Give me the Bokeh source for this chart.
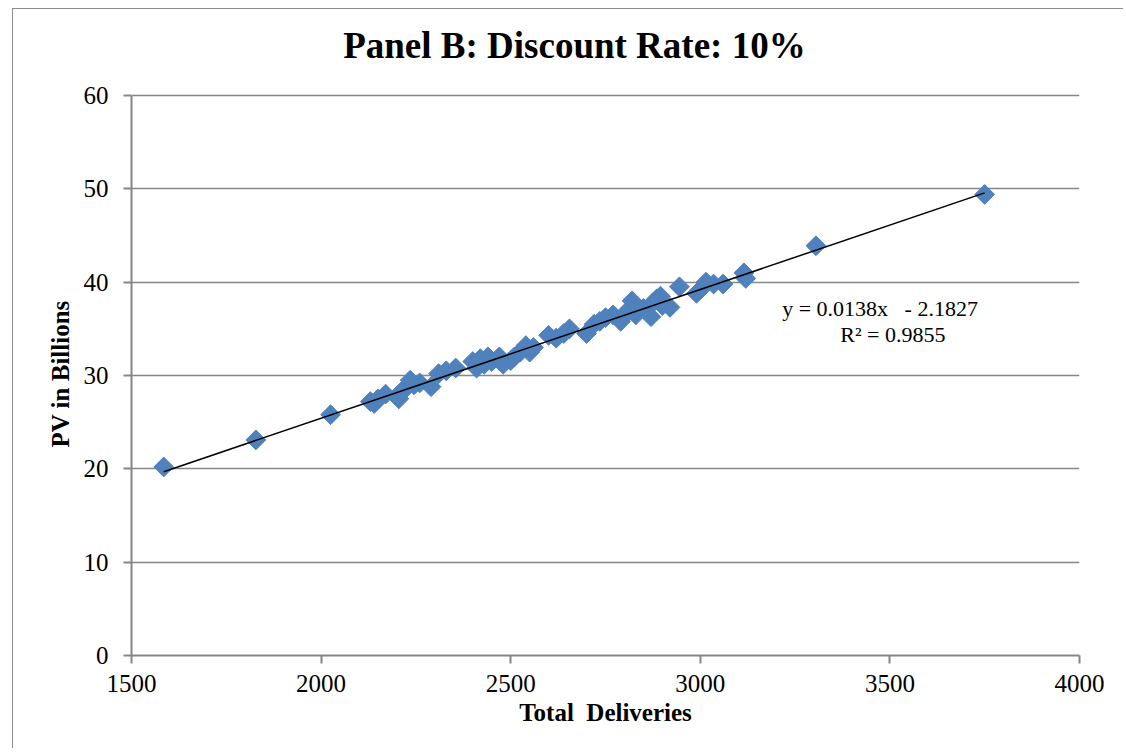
import math
from bokeh.plotting import figure
from bokeh.models import Label, Range1d, FixedTicker, Title
from bokeh.embed import file_html
from bokeh.resources import INLINE

# ---- data ----
total_deliveries = [
    1585, 1828, 2025,
    2130, 2140, 2150, 2170, 2200, 2205, 2215, 2225, 2235, 2245, 2260, 2290,
    2310, 2330, 2355, 2400, 2410, 2420, 2430, 2440, 2450, 2470, 2480, 2500,
    2510, 2525, 2540, 2550, 2560, 2600, 2620, 2640, 2655, 2700, 2720, 2735,
    2750, 2770, 2790, 2800, 2810, 2820, 2830, 2850, 2870, 2875, 2885, 2895,
    2900, 2920, 2945, 2990, 3000, 3015, 3035, 3060, 3115, 3120, 3305, 3750,
]
pv_billions = [
    20.2, 23.1, 25.8,
    27.2, 27.0, 27.5, 28.0, 27.8, 27.5, 28.3, 28.8, 29.5, 29.0, 29.2, 28.8,
    30.2, 30.5, 30.8, 31.5, 30.8, 31.8, 31.2, 32.0, 31.5, 32.0, 31.2, 31.6,
    32.0, 32.5, 33.2, 32.5, 33.0, 34.3, 34.0, 34.5, 35.0, 34.5, 35.5, 35.8,
    36.2, 36.5, 35.8, 36.5, 37.0, 38.0, 36.5, 37.2, 36.3, 37.8, 38.2, 38.5,
    37.5, 37.3, 39.5, 38.8, 39.2, 40.0, 39.8, 39.8, 41.0, 40.4, 43.9, 49.4,
]
trend_slope = 0.0138
trend_intercept = -2.1827
r_squared = 0.9855
x_ticks = [1500, 2000, 2500, 3000, 3500, 4000]
y_ticks = [0, 10, 20, 30, 40, 50, 60]
title_text = "Panel B: Discount Rate: 10%"
x_label = "Total\u00a0 Deliveries"
y_label = "PV in Billions"

SERIF = "Liberation Serif"
GRAY = "#868686"

# canvas starts at page (13, 9); frame x 131..1079, y 9..655; y=60 at page y 95
Y_TOP = 60 + (95 - 9) / (560 / 60)

p = figure(
    width=1111, height=740,
    output_backend="svg", toolbar_location=None,
    x_range=Range1d(1500, 4000), y_range=Range1d(0, Y_TOP),
    min_border_left=118, min_border_right=45,
    min_border_top=0, min_border_bottom=94,
)
p.styles = {"margin-left": "12px", "margin-top": "8px",
            "border-left": "1px solid #8c8c8c",
            "border-top": "1px solid #8c8c8c",
            "border-right": "0px none", "border-bottom": "0px none"}
p.outline_line_color = None
p.background_fill_color = "white"
p.border_fill_color = "white"

# grid
p.xgrid.grid_line_color = None
p.ygrid.grid_line_color = GRAY
p.ygrid.grid_line_width = 1.5
p.ygrid.ticker = FixedTicker(ticks=y_ticks)

# axes
for ax in (p.xaxis[0], p.yaxis[0]):
    ax.axis_line_color = GRAY
    ax.axis_line_width = 2
    ax.major_tick_line_color = GRAY
    ax.major_tick_line_width = 2
    ax.major_tick_out = 8
    ax.major_tick_in = 0
    ax.minor_tick_line_color = None
    ax.major_label_text_font = SERIF
    ax.major_label_text_font_size = "25px"
    ax.major_label_text_color = "black"
    ax.axis_label_text_font = SERIF
    ax.axis_label_text_font_style = "bold"
    ax.axis_label_text_font_size = "25px"
    ax.axis_label_text_color = "black"

p.xaxis[0].ticker = FixedTicker(ticks=x_ticks)
p.yaxis[0].ticker = FixedTicker(ticks=y_ticks)
p.yaxis[0].bounds = (0, 60)
p.xaxis[0].axis_label = x_label
p.xaxis[0].major_label_standoff = 11
p.yaxis[0].major_label_standoff = 15
p.xaxis[0].axis_label_standoff = 4

# y-axis title, centred on the 0..60 span
p.add_layout(Title(text=y_label, align="left", offset=208, standoff=13,
                   vertical_align="bottom", text_font=SERIF,
                   text_font_style="bold", text_font_size="25px",
                   text_color="black"), "left")

# points
p.scatter(total_deliveries, pv_billions, marker="square", size=14,
          angle=math.pi / 4, fill_color="#4F81BD", line_color="#4F81BD")

# trendline
x_line = [min(total_deliveries), max(total_deliveries)]
y_line = [trend_slope * v + trend_intercept for v in x_line]
p.line(x_line, y_line, line_color="black", line_width=1.5)

# chart title (inside the extended frame area above y=60)
p.add_layout(Label(x=2668, y=65.4, text=title_text,
                   text_font=SERIF, text_font_style="bold",
                   text_font_size="37px", text_align="center",
                   text_baseline="alphabetic", text_color="black"))

# equation
p.add_layout(Label(x=3474, y=37.15,
                   text=f"y = {trend_slope:.4f}x\u00a0\u00a0\u00a0- {abs(trend_intercept):.4f}",
                   text_font=SERIF, text_font_size="22px",
                   text_align="center", text_baseline="alphabetic",
                   text_color="black"))
p.add_layout(Label(x=3508, y=34.36, text=f"R\u00b2 = {r_squared:.4f}",
                   text_font=SERIF, text_font_size="22px",
                   text_align="center", text_baseline="alphabetic",
                   text_color="black"))

open("out.html", "w").write(file_html(p, INLINE))
